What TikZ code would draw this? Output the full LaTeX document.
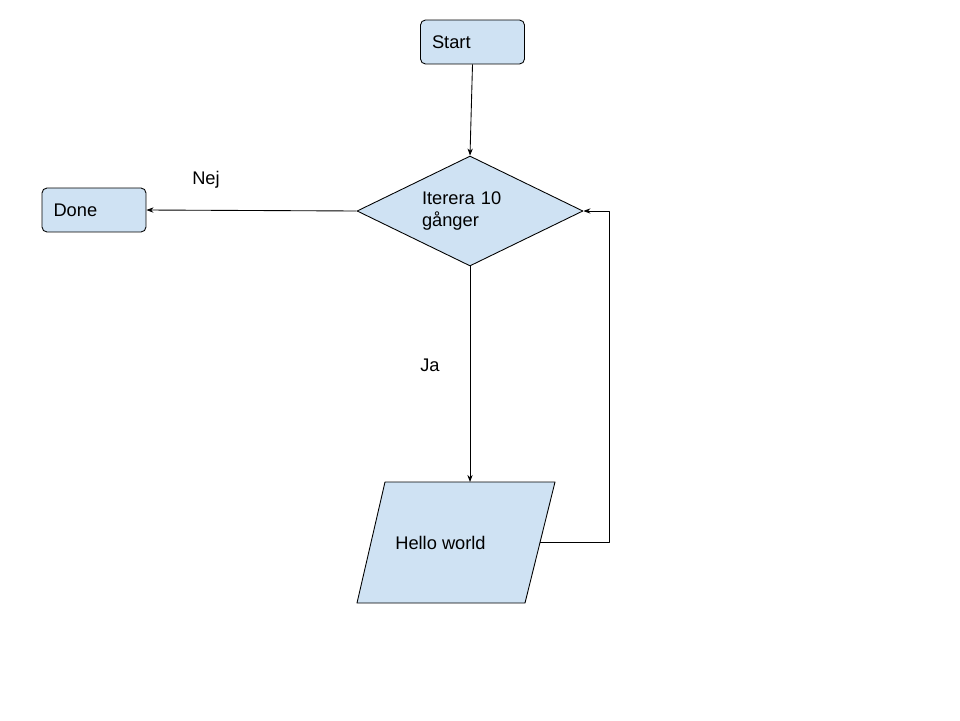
\documentclass[tikz,border=0pt]{standalone}
\usepackage{fontspec}
\setmainfont{Liberation Sans}
\usetikzlibrary{shapes.geometric,arrows.meta}
\definecolor{boxblue}{HTML}{CFE2F3}
\tikzset{
  box/.style={draw,fill=boxblue,rounded corners=0.1cm,minimum width=2.08cm,minimum height=0.88cm,text width=1.62cm,align=left},
  decision/.style={draw,fill=boxblue,diamond,aspect=2,inner sep=0pt,minimum width=4.52cm,minimum height=2.2cm,text width=1.92cm,align=left},
  flow/.style={-{Stealth[length=4pt,width=3pt]}}
}
\begin{document}
\begin{tikzpicture}[x=0.02cm,y=-0.02cm,line width=0.5pt,line join=round,font=\fontsize{10.4}{12.5}\selectfont]
	\useasboundingbox (0,0) rectangle (960,720);
	\node[box] (start) at (472.5,42) {Start};
	\node[decision] (iter) at (470,211) {Iterera 10\\gånger};
	\node[box] (done) at (94,210) {Done};
	% parallelogram
	\draw[fill=boxblue] (385,482)--(555,482)--(525,603)--(357,603)--cycle;
	\coordinate (hello-in) at (470,482);
	\coordinate (hello-out) at (540,542);
	\node (hello) at (440.5,543) {Hello world};
	\coordinate (loop) at (609,211);
	\draw[flow] (start.south)--(iter.north);
	\draw[flow] (iter.west)--(done.east);
	\draw[flow] (iter.south)--(hello-in);
	\draw[flow] (hello-out)-|(loop)--(iter.east);
	\node (nej) at (206,180) {Nej};
	\node (ja) at (430,365) {Ja};
\end{tikzpicture}
\end{document}
